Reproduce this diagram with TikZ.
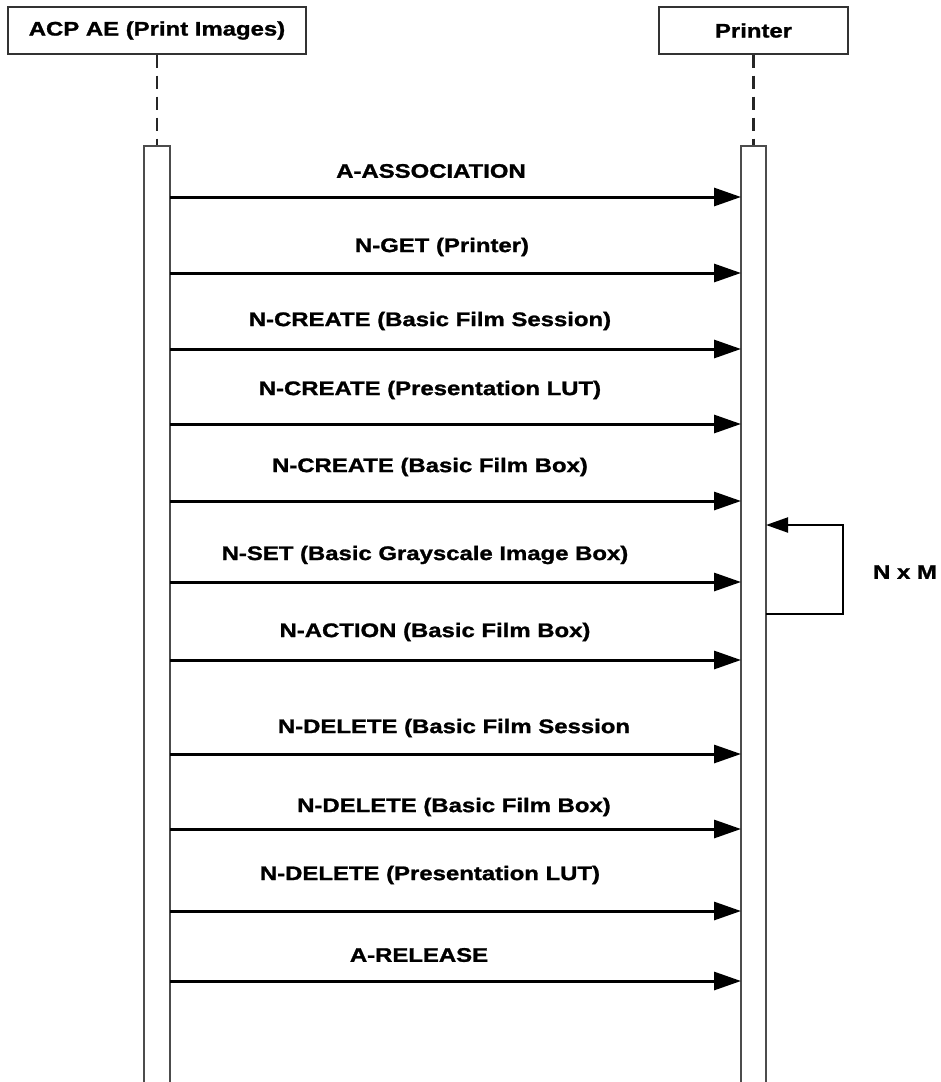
\documentclass[tikz,border=0pt]{standalone}
\usepackage{fontspec}
\setmainfont{Liberation Sans}[FakeStretch=1.22, BoldFeatures={FakeBold=1.3}]
\usetikzlibrary{arrows.meta}
\tikzset{
  head/.style={draw=black!80, line width=1.4pt, fill=white, minimum height=47pt, inner sep=0pt},
  msg/.style={inner sep=0pt},
  lifeline/.style={draw=black!85, line width=2.4pt, dash pattern=on 13pt off 8pt},
  bar/.style={draw=black!70, line width=1.2pt},
  call/.style={line width=3pt, -{Triangle[length=27pt, width=18pt]}},
  selfcall/.style={line width=2pt, -{Triangle[length=22pt, width=15pt]}}
}

\begin{document}
\begin{tikzpicture}[x=1pt, y=-1pt, font=\bfseries\fontsize{19.6}{22}\selectfont]
    \useasboundingbox (0,0) rectangle (941,1082);

    % the two objects
    \node[head, minimum width=298pt] (acp) at (157,30.5) {ACP AE (Print Images)};
    \node[head, minimum width=189pt] (printer) at (753.5,30.5) {Printer};

    \coordinate (acptop) at (157,146);
    \coordinate (printertop) at (753.5,146);
    \draw[lifeline] (acp) -- (acptop);
    \draw[lifeline] (printer) -- (printertop);

    % activation bars, open at the bottom
    \draw[bar] (144,1082) -- (144,146) -- (170,146) -- (170,1082);
    \draw[bar] (741,1082) -- (741,146) -- (766,146) -- (766,1082);

    % messages
    \coordinate (a1) at (170,197);  \coordinate (p1) at (741,197);
    \coordinate (a2) at (170,273);  \coordinate (p2) at (741,273);
    \coordinate (a3) at (170,349);  \coordinate (p3) at (741,349);
    \coordinate (a4) at (170,424);  \coordinate (p4) at (741,424);
    \coordinate (a5) at (170,501);  \coordinate (p5) at (741,501);
    \coordinate (a6) at (170,582);  \coordinate (p6) at (741,582);
    \coordinate (a7) at (170,660);  \coordinate (p7) at (741,660);
    \coordinate (a8) at (170,754);  \coordinate (p8) at (741,754);
    \coordinate (a9) at (170,829);  \coordinate (p9) at (741,829);
    \coordinate (a10) at (170,911); \coordinate (p10) at (741,911);
    \coordinate (a11) at (170,981); \coordinate (p11) at (741,981);

    \node[msg] (assoc) at (431,171) {A-ASSOCIATION};
    \node[msg] (getprinter) at (442,247) {N-GET (Printer)};
    \node[msg] (createsession) at (430,321) {N-CREATE (Basic Film Session)};
    \node[msg] (createlut) at (430,390) {N-CREATE (Presentation LUT)};
    \node[msg] (createbox) at (430,467) {N-CREATE (Basic Film Box)};
    \node[msg] (setimage) at (425,555) {N-SET (Basic Grayscale Image Box)};
    \node[msg] (actionbox) at (435,632) {N-ACTION (Basic Film Box)};
    \node[msg] (delsession) at (454,728) {N-DELETE (Basic Film Session};
    \node[msg] (delbox) at (454,807) {N-DELETE (Basic Film Box)};
    \node[msg] (dellut) at (430,875) {N-DELETE (Presentation LUT)};
    \node[msg] (release) at (419,955) {A-RELEASE};

    \draw[call] (a1) -- (p1);
    \draw[call] (a2) -- (p2);
    \draw[call] (a3) -- (p3);
    \draw[call] (a4) -- (p4);
    \draw[call] (a5) -- (p5);
    \draw[call] (a6) -- (p6);
    \draw[call] (a7) -- (p7);
    \draw[call] (a8) -- (p8);
    \draw[call] (a9) -- (p9);
    \draw[call] (a10) -- (p10);
    \draw[call] (a11) -- (p11);

    % repeated image boxes
    \coordinate (loopout) at (766,614);
    \coordinate (loopturn) at (843,525);
    \coordinate (loopin) at (766,525);
    \draw[selfcall] (loopout) -| (loopturn) -- (loopin);
    \node[msg] (repeat) at (905,572) {N x M};
\end{tikzpicture}
\end{document}
